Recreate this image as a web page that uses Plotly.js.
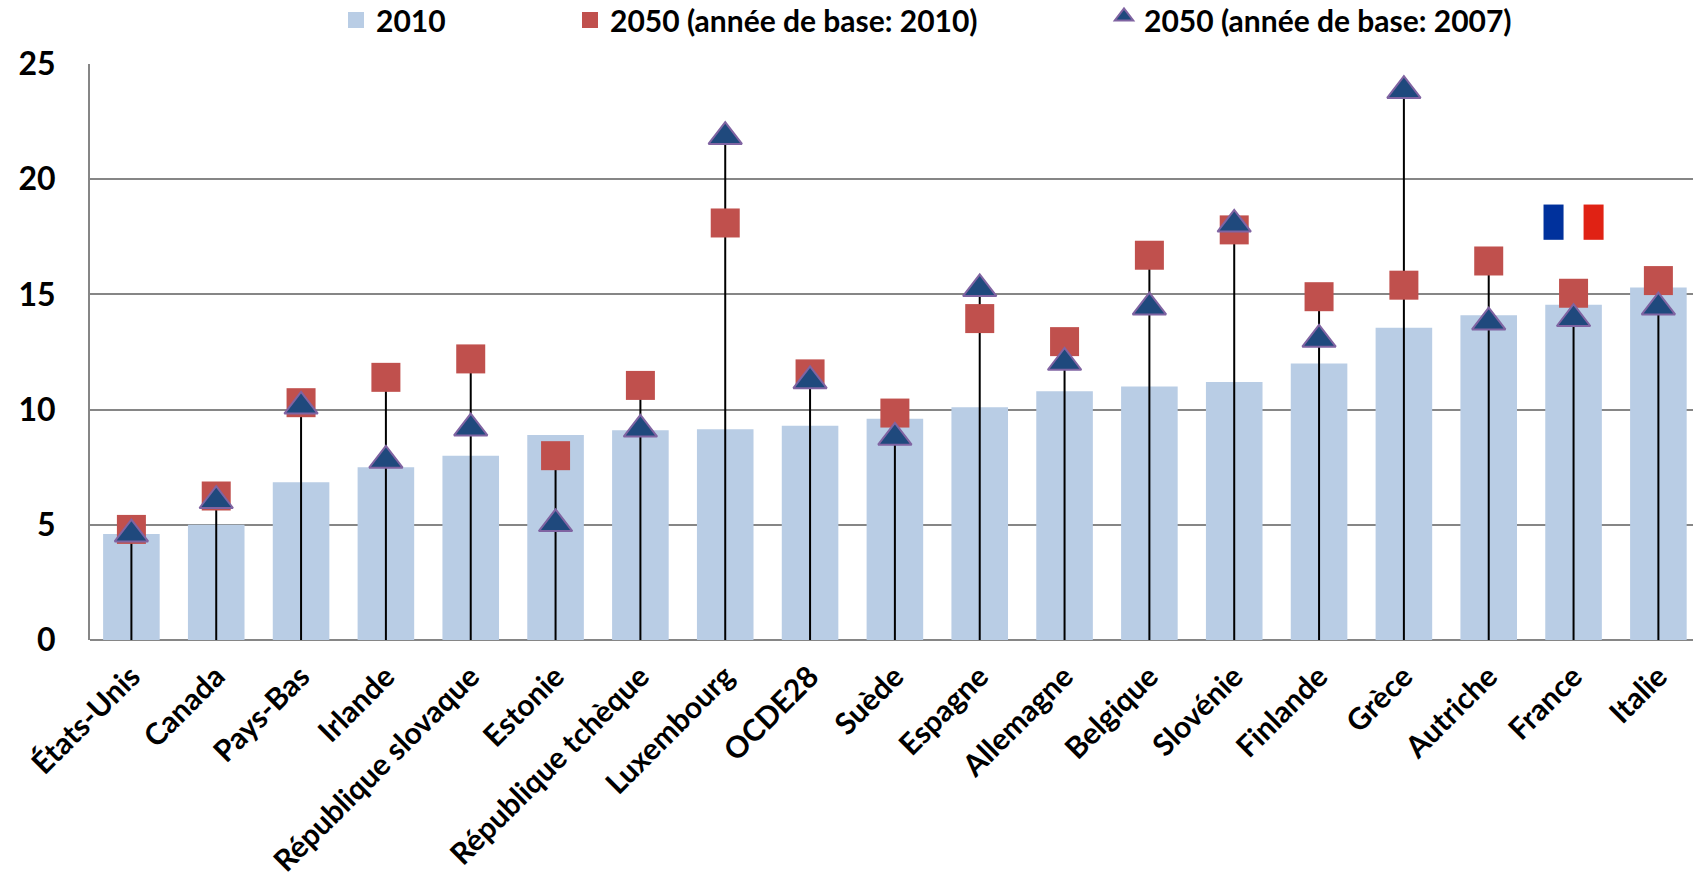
<!DOCTYPE html>
<html>
<head>
<meta charset="utf-8">
<script src="https://cdn.plot.ly/plotly-3.0.1.min.js"></script>
<style>html,body{margin:0;padding:0;background:#fff;overflow:hidden}</style>
</head>
<body>
<div id="chart" style="width:1693px;height:877px"></div>
<script>
const categories = ["États-Unis","Canada","Pays-Bas","Irlande","République slovaque","Estonie","République tchèque","Luxembourg","OCDE28","Suède","Espagne","Allemagne","Belgique","Slovénie","Finlande","Grèce","Autriche","France","Italie"];
const values2010 = [4.6,5.0,6.85,7.5,8.0,8.9,9.1,9.15,9.3,9.6,10.1,10.8,11.0,11.2,12.0,13.55,14.1,14.55,15.3];
const base2010 = [4.8,6.25,10.3,11.4,12.2,8.0,11.05,18.1,11.55,9.85,13.95,12.95,16.7,17.8,14.9,15.4,16.45,15.05,15.6];
const base2007 = [4.75,6.2,10.3,7.95,9.35,5.2,9.3,22.0,11.4,8.95,15.4,12.2,14.6,18.2,13.2,24.0,13.95,14.1,14.6];
const yTicks = [0,5,10,15,20,25];
const seriesNames = ["2010","2050 (année de base: 2010)","2050 (année de base: 2007)"];

const fontFamily = "Lato, 'Open Sans', sans-serif";
const textFont = {family: fontFamily, size: 30, color: "#000", weight: 700};
const tickFont = {family: fontFamily, size: 32, color: "#000", weight: 700};
const W = 1693;
const idx = categories.map((_, i) => i);
const franceIdx = categories.indexOf("France");

const traces = [
  {type:"bar", x:idx, y:values2010, width:0.667, marker:{color:"#B9CDE5"}, name:seriesNames[0], showlegend:false, hoverinfo:"y"},
  {type:"scatter", mode:"markers", x:[null], y:[null], name:seriesNames[0], legend:"legend",
   marker:{symbol:"square", size:18, color:"#B9CDE5"}},
  {type:"scatter", mode:"markers", x:idx, y:base2010, name:seriesNames[1], legend:"legend2",
   marker:{symbol:"square", size:29, color:"#C0504D"},
   error_y:{type:"data", symmetric:false,
     array:base2010.map((v,i)=>Math.max(v,base2007[i])-v),
     arrayminus:base2010, width:0, color:"#000", thickness:2}},
  {type:"scatter", mode:"markers", x:idx, y:base2007, name:seriesNames[2], legend:"legend3",
   marker:{symbol:"triangle-up", standoff:3.6, size:29, color:"#1F497D", line:{color:"#8064A2", width:2}}}
];

const legendBase = {xref:"container", yref:"container", xanchor:"left", yanchor:"middle", y:1-20/877,
  orientation:"h", font:textFont, bgcolor:"rgba(0,0,0,0)", itemsizing:"trace"};

const layout = {
  width:W, height:877, paper_bgcolor:"#fff", plot_bgcolor:"#fff",
  margin:{l:90, r:0, t:64, b:237, pad:0},
  bargap:0.33,
  xaxis:{range:[-0.488,18.408], tickmode:"array", tickvals:idx, ticktext:categories, tickangle:-45,
    ticks:"", tickfont:textFont, showgrid:false, zeroline:false, showline:false, ticklabelstandoff:12},
  yaxis:{range:[0,25], tickmode:"array", tickvals:yTicks, ticktext:yTicks.map(String),
    ticks:"", tickfont:tickFont, gridcolor:"#868686", gridwidth:2, showline:true, linecolor:"#868686", linewidth:2,
    zeroline:true, zerolinecolor:"#868686", zerolinewidth:2, ticklabelstandoff:26},
  legend:Object.assign({}, legendBase, {x:336/W}),
  legend2:Object.assign({}, legendBase, {x:570/W}),
  legend3:Object.assign({}, legendBase, {x:1104/W}),
  shapes:[
    {type:"rect", xref:"x", yref:"y", x0:franceIdx-0.354, x1:franceIdx-0.118, y0:17.37, y1:18.9, fillcolor:"#00319C", line:{width:0}},
    {type:"rect", xref:"x", yref:"y", x0:franceIdx+0.118, x1:franceIdx+0.354, y0:17.37, y1:18.9, fillcolor:"#E02214", line:{width:0}}
  ]
};
Plotly.newPlot("chart", traces, layout, {displayModeBar:false, responsive:false});
</script>
</body>
</html>
